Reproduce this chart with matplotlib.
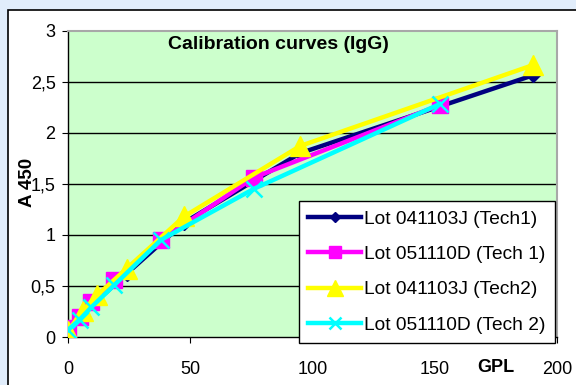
import matplotlib
matplotlib.use('Agg')
import matplotlib.pyplot as plt
from matplotlib.patches import Rectangle

plt.rcParams['font.family'] = ['Liberation Sans', 'DejaVu Sans']

# Data
gpl_041103J = [0, 6, 12, 24, 47.5, 95, 190]
gpl_051110D = [0, 4.75, 9.5, 19, 38, 76, 152]

a450_041103J_t1 = [0.05, 0.21, 0.36, 0.62, 1.12, 1.80, 2.56]
a450_051110D_t1 = [0.09, 0.20, 0.34, 0.56, 0.95, 1.56, 2.27]
a450_041103J_t2 = [0.06, 0.25, 0.41, 0.67, 1.18, 1.87, 2.66]
a450_051110D_t2 = [0.07, 0.17, 0.29, 0.51, 0.95, 1.45, 2.28]

labels = ['Lot 041103J (Tech1)', 'Lot 051110D (Tech 1)',
          'Lot 041103J (Tech2)', 'Lot 051110D (Tech 2)']
x_ticks = [0, 50, 100, 150, 200]
y_ticks = [0, 0.5, 1, 1.5, 2, 2.5, 3]
y_tick_labels = ['0', '0,5', '1', '1,5', '2', '2,5', '3']

W, H = 576, 385
fig = plt.figure(figsize=(W / 100, H / 100), dpi=100, facecolor='#E1EDFB')

# white chart area with black border
fig.patches.append(Rectangle((8 / W, -0.1), 1.1, 1 - 10 / H + 0.1,
                             transform=fig.transFigure, facecolor='white',
                             edgecolor='black', linewidth=1.2, zorder=-1))

ax = fig.add_axes([68 / W, 1 - 337 / H, (557 - 68) / W, (337 - 30.5) / H])
ax.set_facecolor('#CCFFCC')

for y in y_ticks[1:-1]:
    ax.axhline(y, color='black', linewidth=1, zorder=1)

ax.plot(gpl_041103J, a450_041103J_t1, color='#000080', lw=3.2, marker='D',
        markersize=7, label=labels[0], zorder=3)
ax.plot(gpl_051110D, a450_051110D_t1, color='#FF00FF', lw=3.2, marker='s',
        markersize=11, label=labels[1], zorder=4)
ax.plot(gpl_041103J, a450_041103J_t2, color='#FFFF00', lw=3.2, marker='^',
        markersize=15, label=labels[2], zorder=5)
ax.plot(gpl_051110D, a450_051110D_t2, color='#00FFFF', lw=3.2, marker='x',
        markersize=11, markeredgewidth=1.8, label=labels[3], zorder=6)

ax.set_xlim(0, 200)
ax.set_ylim(0, 3)
ax.set_xticks(x_ticks)
ax.set_yticks(y_ticks)
ax.set_yticklabels(y_tick_labels)
ax.tick_params(axis='x', direction='out', length=4, pad=13, labelsize=13)
ax.tick_params(axis='y', direction='out', length=4, pad=5, labelsize=13)

for side in ['top', 'right']:
    ax.spines[side].set_color('#A8A8A8')
    ax.spines[side].set_linewidth(1.5)
for side in ['left', 'bottom']:
    ax.spines[side].set_color('black')
    ax.spines[side].set_linewidth(1)

ax.text(0.431, 0.953, 'Calibration curves (IgG)', transform=ax.transAxes,
        ha='center', va='center', fontsize=14, fontweight='bold')

leg = ax.legend(loc='lower right', bbox_to_anchor=(0.996, -0.02),
                fontsize=13.8, frameon=True, fancybox=False, framealpha=1,
                edgecolor='black', handlelength=2.75, handletextpad=0.15,
                labelspacing=0.93, borderpad=0.5, borderaxespad=0,
                markerscale=0.75)
leg.get_frame().set_linewidth(1)
leg.set_zorder(10)

fig.text(28 / W, 1 - 182 / H, 'A 450', rotation=90, ha='center', va='center',
         fontsize=13.5, fontweight='bold')
fig.text(496 / W, 1 - 367 / H, 'GPL', ha='center', va='center',
         fontsize=13, fontweight='bold')

fig.savefig('out.png', dpi=100, facecolor=fig.get_facecolor())
